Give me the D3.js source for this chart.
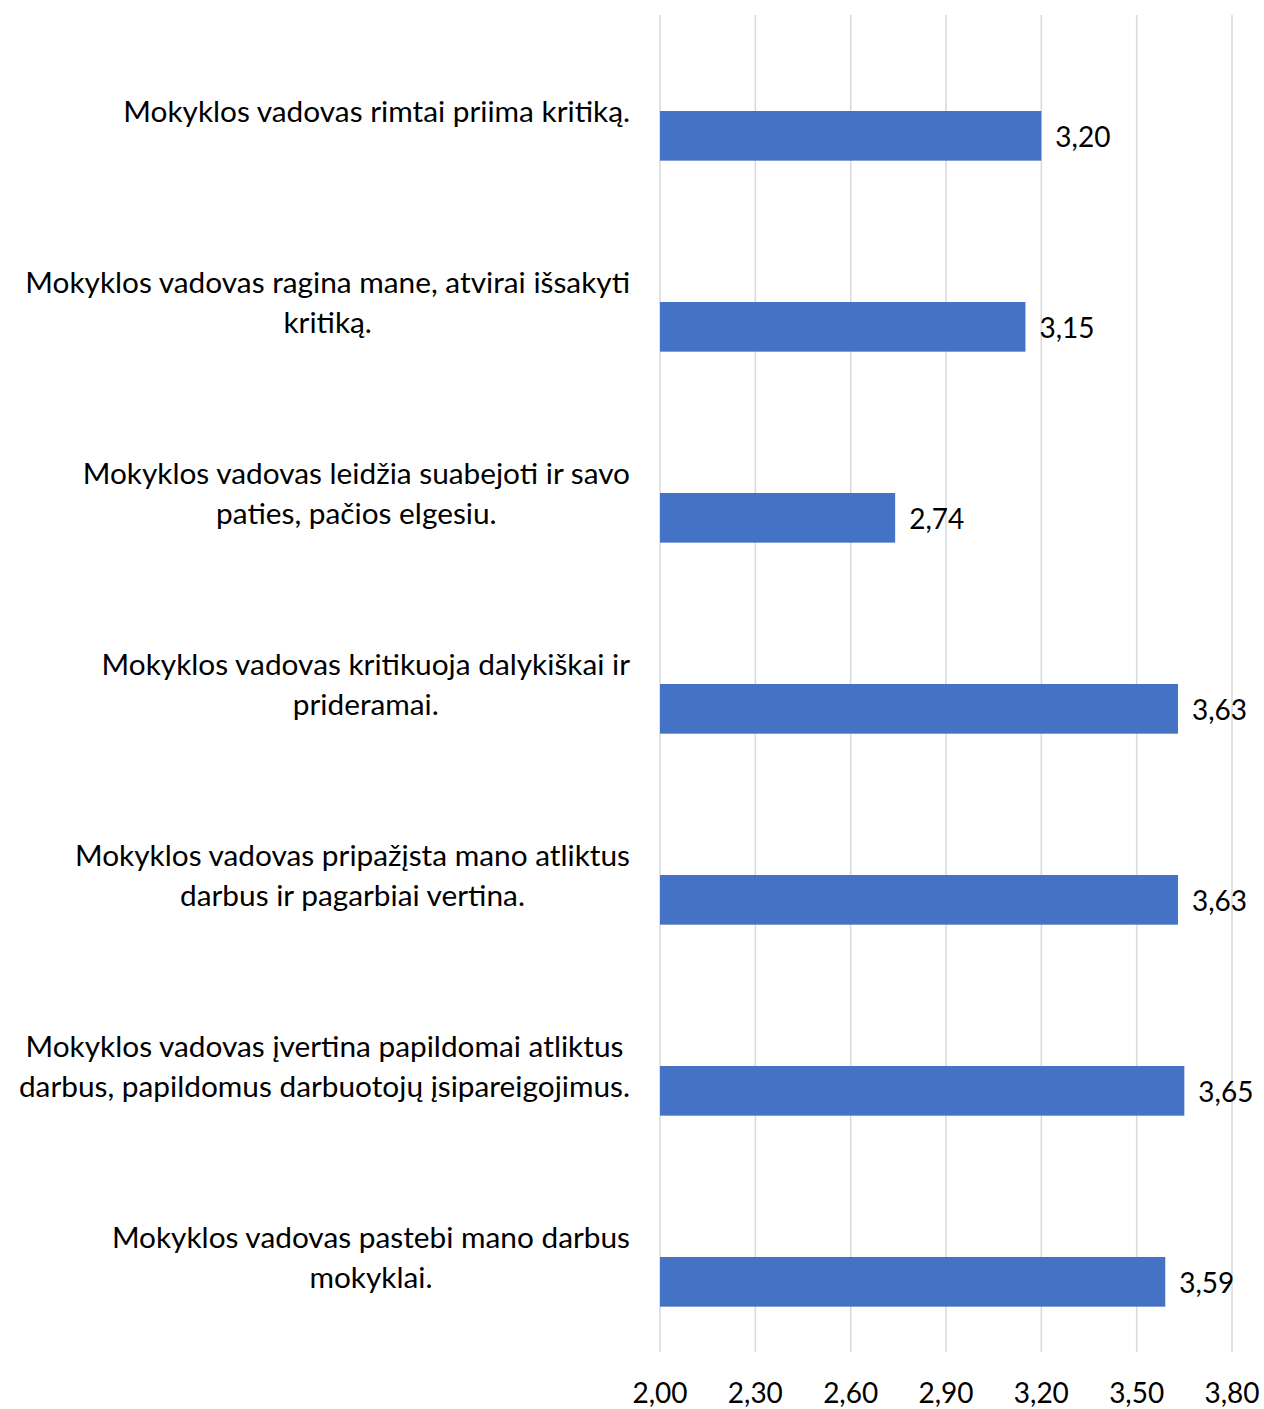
<!DOCTYPE html>
<html>
<head>
<meta charset="utf-8">
<script src="https://cdn.jsdelivr.net/npm/d3@7"></script>
<style>
  html, body { margin: 0; padding: 0; background: #fff; }
  svg { display: block; }
  text { font-family: Lato, "Open Sans", sans-serif; fill: #000; }
</style>
</head>
<body>
<svg id="chart" width="1264" height="1409"></svg>
<script>
const categories = [
  ["Mokyklos vadovas rimtai priima kritiką."],
  ["Mokyklos vadovas ragina mane, atvirai išsakyti", "kritiką."],
  ["Mokyklos vadovas leidžia suabejoti ir savo", "paties, pačios elgesiu."],
  ["Mokyklos vadovas kritikuoja dalykiškai ir", "prideramai."],
  ["Mokyklos vadovas pripažįsta mano atliktus", "darbus ir pagarbiai vertina."],
  ["Mokyklos vadovas įvertina papildomai atliktus", "darbus, papildomus darbuotojų įsipareigojimus."],
  ["Mokyklos vadovas pastebi mano darbus", "mokyklai."]
];
const values = [3.20, 3.15, 2.74, 3.63, 3.63, 3.65, 3.59];
const tickValues = [2.00, 2.30, 2.60, 2.90, 3.20, 3.50, 3.80];

const locale = d3.formatLocale({decimal: ",", thousands: " ", grouping: [3], currency: ["", ""]});
const fmt = locale.format(".2f");

const svg = d3.select("#chart");
const keys = categories.map((c, i) => i);

const x = d3.scaleLinear().domain([2.0, 3.8]).range([660, 1232]);
const y = d3.scaleBand().domain(keys).range([15, 1352]).padding(0);
const bw = y.bandwidth();

// gridlines
svg.append("g").selectAll("line").data(tickValues).join("line")
  .attr("x1", d => x(d)).attr("x2", d => x(d))
  .attr("y1", 15).attr("y2", 1352)
  .attr("stroke", "#d9d9d9").attr("stroke-width", 1.5);

// tick labels
svg.append("g").selectAll("text").data(tickValues).join("text")
  .attr("x", d => x(d)).attr("y", 1392)
  .attr("text-anchor", "middle").attr("dominant-baseline", "central")
  .attr("font-size", 28)
  .text(d => fmt(d));

// bars
svg.append("g").selectAll("rect").data(values).join("rect")
  .attr("x", x(2.0))
  .attr("y", (d, i) => y(i) + bw / 2 + 0.5)
  .attr("width", d => x(d) - x(2.0))
  .attr("height", bw * 0.26)
  .attr("fill", "#4472C4");

// value labels
svg.append("g").selectAll("text").data(values).join("text")
  .attr("x", d => x(d) + 14)
  .attr("y", (d, i) => y(i) + bw / 2 + bw * 0.13 + 1)
  .attr("dominant-baseline", "central")
  .attr("font-size", 28)
  .text(d => fmt(d));

// category labels
const lineH = 39.5;
const labelRight = 630;
const lg = svg.append("g");
categories.forEach((lines, i) => {
  const cy = y(i) + bw / 2;
  const texts = lines.map((ln, j) => lg.append("text")
    .attr("font-size", 29.8)
    .attr("text-anchor", "middle")
    .attr("dominant-baseline", "central")
    .attr("y", cy + (j - (lines.length - 1) / 2) * lineH)
    .text(ln));
  const W = d3.max(texts, t => t.node().getComputedTextLength());
  texts.forEach(t => t.attr("x", labelRight - W / 2));
});
</script>
</body>
</html>
